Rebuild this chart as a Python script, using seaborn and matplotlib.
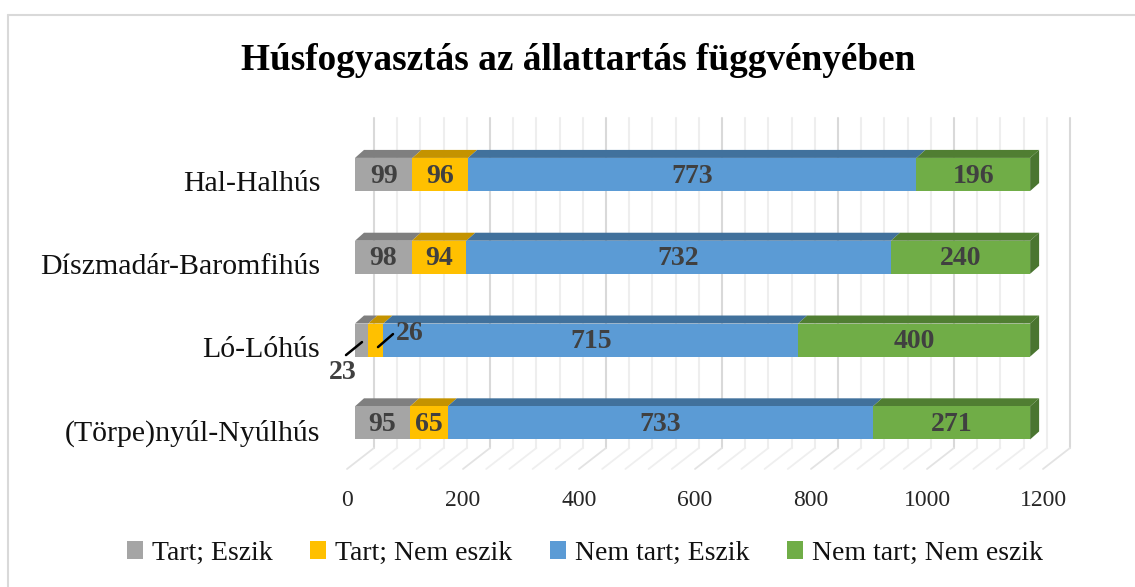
import numpy as np
import pandas as pd
import matplotlib
matplotlib.use("Agg")
import matplotlib.pyplot as plt
import seaborn as sns
from matplotlib.patches import Polygon, Patch
from matplotlib.transforms import offset_copy
from matplotlib.lines import Line2D

categories = ["Hal-Halhús", "Díszmadár-Baromfihús", "Ló-Lóhús", "(Törpe)nyúl-Nyúlhús"]
series = ["Tart; Eszik", "Tart; Nem eszik", "Nem tart; Eszik", "Nem tart; Nem eszik"]
tart_eszik = [99, 98, 23, 95]
tart_nem_eszik = [96, 94, 26, 65]
nem_tart_eszik = [773, 732, 715, 733]
nem_tart_nem_eszik = [196, 240, 400, 271]
x_ticks = [0, 200, 400, 600, 800, 1000, 1200]

front_colors = ["#a5a5a5", "#ffc000", "#5b9bd5", "#70ad47"]
top_colors = ["#7f7f7f", "#c49300", "#41719c", "#507e32"]
side_color = "#4a7530"

sns.set_style("white")
plt.rcParams["font.family"] = ["Liberation Serif", "DejaVu Serif"]

W, H = 1135, 587
fig = plt.figure(figsize=(W / 100, H / 100), dpi=100)

# axes: x=0 -> px 355, x=1200 -> px 1051; y top 118, bottom 469 (image coords)
ax = fig.add_axes([355 / W, 1 - 469 / H, 696 / W, (469 - 118) / H])

values = np.array([tart_eszik, tart_nem_eszik, nem_tart_eszik, nem_tart_nem_eszik])
cums = values.cumsum(axis=0)
starts = cums - values

bar_h = 0.4
# stacked front faces: draw longest cumulative first
for k in range(3, -1, -1):
    df = pd.DataFrame({"cat": categories, "val": cums[k]})
    sns.barplot(data=df, x="val", y="cat", orient="h", color=front_colors[k],
                width=bar_h, saturation=1, ax=ax, zorder=3, linewidth=0)

ax.set_xlim(0, 1200)
ax.set_ylim(3.557, -0.682)
for s in ax.spines.values():
    s.set_visible(False)
ax.set_xlabel("")
ax.set_ylabel("")

px = 1200 / 696      # data units per pixel (x)
py = 1 / 82.8        # data units per pixel (y)

# back wall grid and floor
back_dx = 19
floor_top = (448 - 174.5) * py
floor_front = (469 - 174.5) * py
wall_top = -0.682
for v in range(0, 1201, 40):
    major = v % 200 == 0
    col = "#d9d9d9" if major else "#eeeeee"
    xb = v + back_dx * px
    ax.plot([xb, xb], [wall_top, floor_top], color=col, lw=1.5, zorder=1, clip_on=False)
    ax.plot([xb, v - 8 * px], [floor_top, floor_front], color="#e3e3e3" if major else "#efefef",
            lw=1.3, zorder=1, clip_on=False)

# 3D top faces and right side
dx3, dy3 = 9 * px, 8 * py
for i in range(len(categories)):
    top = i - bar_h / 2
    bot = i + bar_h / 2
    for k in range(4):
        x0, x1 = starts[k, i], cums[k, i]
        poly = Polygon([[x0, top], [x1, top], [x1 + dx3, top - dy3], [x0 + dx3, top - dy3]],
                       closed=True, facecolor=top_colors[k], edgecolor="none", zorder=2.5, clip_on=False)
        ax.add_patch(poly)
    xe = cums[3, i]
    side = Polygon([[xe, top], [xe + dx3, top - dy3], [xe + dx3, bot - dy3], [xe, bot]],
                   closed=True, facecolor=side_color, edgecolor="none", zorder=3, clip_on=False)
    ax.add_patch(side)

# value labels
for i in range(len(categories)):
    for k in range(4):
        v = values[k, i]
        xc = starts[k, i] + v / 2
        if categories[i] == "Ló-Lóhús" and k < 2:
            continue
        ax.text(xc, i + 0.02, str(v), ha="center", va="center", fontsize=20,
                fontweight="bold", color="#404040", zorder=5)

# small segments of Ló-Lóhús with leader lines
i = categories.index("Ló-Lóhús")
ax.plot([(346 - 355) * px, (362 - 355) * px], [i + (355 - 340) * py, i + (342 - 340) * py],
        color="black", lw=1.8, zorder=6, clip_on=False)
ax.text((343 - 355) * px, i + (372 - 340) * py, str(tart_eszik[i]), ha="center", va="center",
        fontsize=20, fontweight="bold", color="#404040", zorder=6)
ax.plot([(378 - 355) * px, (393 - 355) * px], [i + (347 - 340) * py, i + (334 - 340) * py],
        color="black", lw=1.8, zorder=6, clip_on=False)
ax.text((410 - 355) * px, i + (333 - 340) * py, str(tart_nem_eszik[i]), ha="center", va="center",
        fontsize=20, fontweight="bold", color="#404040", zorder=6)

# ticks
ax.set_xticks(x_ticks)
ax.set_xticklabels([str(t) for t in x_ticks])
ax.tick_params(axis="x", length=0, pad=15, labelsize=17)
ax.tick_params(axis="y", length=0, pad=25, labelsize=21.5)
for lab in ax.get_xticklabels():
    lab.set_color("#262626")
    lab.set_transform(offset_copy(lab.get_transform(), fig=fig, x=-8, y=0, units="dots"))
for lab in ax.get_yticklabels():
    lab.set_color("#111111")
    lab.set_transform(offset_copy(lab.get_transform(), fig=fig, x=0, y=-7, units="dots"))

fig.text(0.509, 1 - 60 / H, "Húsfogyasztás az állattartás függvényében", ha="center", va="center",
         fontsize=26.8, fontweight="bold", color="black")

handles = [Patch(facecolor=c, edgecolor="none") for c in front_colors]
fig.legend(handles, series, loc="center", bbox_to_anchor=(0.515, 1 - 553 / H), ncol=4,
           frameon=False, fontsize=20, handlelength=0.6, handleheight=0.6,
           handletextpad=0.3, columnspacing=1.35, labelcolor="#111111")

# chart border (top and left)
fig.add_artist(Line2D([8 / W, 1], [1 - 15 / H, 1 - 15 / H], color="#d9d9d9", lw=1.5))
fig.add_artist(Line2D([8 / W, 8 / W], [0, 1 - 15 / H], color="#d9d9d9", lw=1.5))

fig.savefig("out.png", dpi=100)
